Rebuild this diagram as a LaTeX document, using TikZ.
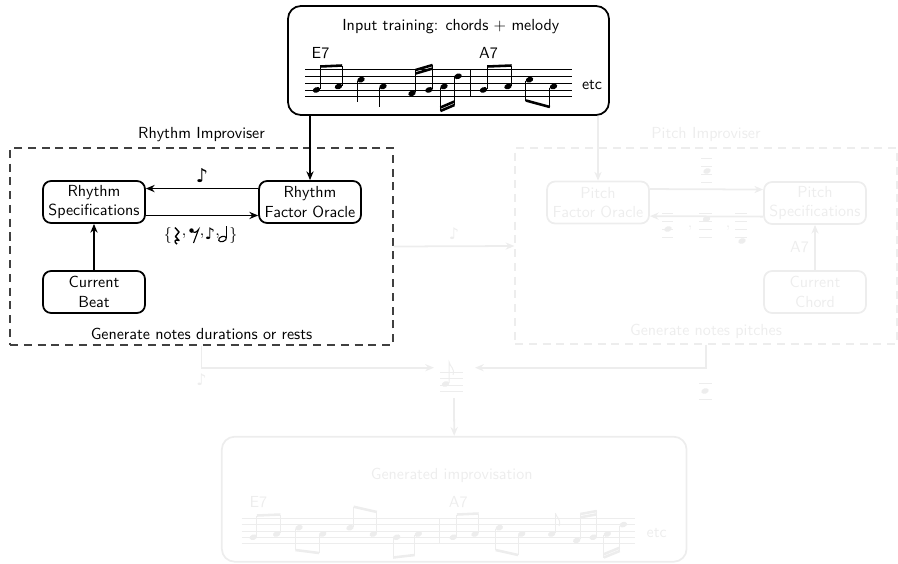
\documentclass[tikz,border=0pt]{standalone}
\usepackage{fontspec}
\usepackage{amsmath}
\newfontfamily\musicfont{DejaVu Sans}
\renewcommand{\familydefault}{\sfdefault}
\usetikzlibrary{arrows.meta}

% small music engraving helpers (pixel units, y down)
\newcommand{\nhd}[2]{\fill[rotate around={20:(#1,#2)}] (#1,#2) ellipse (2.4pt and 1.7pt);}
\newcommand{\nup}[3]{\nhd{#1}{#2}\draw[stemln] (#1+3.6,#2-1) -- (#1+3.6,#3);}
\newcommand{\ndn}[3]{\nhd{#1}{#2}\draw[stemln] (#1-3.6,#2+1) -- (#1-3.6,#3);}
\newcommand{\bm}[4]{\draw[beam] (#1,#2) -- (#3,#4);}
\newcommand{\staff}[4]{\foreach \k in {0,...,4} {\draw[staffln] (#1,#2+\k*#4) -- (#3,#2+\k*#4);}}
\newcommand{\snip}[5]{\foreach \k in {0,...,3} {\draw[staffln] (#1,#3+\k*8) -- (#2,#3+\k*8);}\nhd{#4}{#5}}

\begin{document}
\begin{tikzpicture}[x=0.624pt, y=-0.624pt, >={Stealth[length=5.5pt, width=4.5pt]},
    box/.style={draw, line width=1.1pt, rounded corners=5pt, minimum width=63.6pt,
        minimum height=26.2pt, align=center, inner sep=1pt},
    improv/.style={draw, dash pattern=on 5pt off 3.6pt, line width=0.7pt},
    flow/.style={->, line width=1.1pt},
    stemln/.style={line width=0.6pt},
    beam/.style={line width=1.6pt},
    staffln/.style={line width=0.4pt}]
    \useasboundingbox (0,0) rectangle (898,563);

    % input score
    \node[draw, line width=1.1pt, rounded corners=8pt, minimum width=200.3pt, minimum height=68pt] (input) at (448.5,60.5) {};
    \node at (450.8,26.7) {Input training: chords $+$ melody};
    \node at (320.5,53) {E7};
    \node at (488.5,53) {A7};
    \node at (592,85) {etc};
    \staff{305}{69.5}{572}{6.8}
    \draw[staffln] (470.7,69.5) -- (470.7,96.7);
    \nup{316.5}{89.9}{66.5} \nup{338.5}{86.5}{65.5} \bm{320.1}{66.5}{342.1}{65.5}
    \ndn{361}{79.7}{102} \ndn{383}{86.5}{107}
    \nup{412}{93.3}{70} \nup{429}{89.9}{65}
    \bm{415.6}{70}{432.6}{65} \bm{415.6}{73.5}{432.6}{68.5}
    \ndn{444}{86.5}{111} \ndn{458}{76.3}{105}
    \bm{440.4}{111}{454.4}{105} \bm{440.4}{107.5}{454.4}{101.5}
    \nup{483.5}{89.9}{66.5} \nup{508}{86.5}{65.5} \bm{487.1}{66.5}{511.6}{65.5}
    \ndn{529.5}{79.7}{100.5} \ndn{553.5}{86.5}{107} \bm{525.9}{100.5}{549.9}{107}

    % pitch side and output, greyed out
    \begin{scope}[color=black!7]
        \node[improv, minimum width=238.4pt, minimum height=122.3pt] (pgroup) at (706,246) {};
        \node[above] at (pgroup.north) {Pitch Improviser};
        \node[above] at (pgroup.south) {Generate notes pitches};
        \node[box] (poracle) at (598,202.5) {Pitch\\Factor Oracle};
        \node[box] (pspec) at (815,203) {Pitch\\Specifications};
        \node[box] (pchord) at (815,292) {Current\\Chord};
        \draw[flow] (input.south -| poracle.north) -- (poracle.north);
        \draw[flow] ([yshift=8.4pt]poracle.east) -- ([yshift=8.4pt]pspec.west);
        \draw[flow] ([yshift=-8.5pt]pspec.west) -- ([yshift=-8.5pt]poracle.east);
        \draw[flow] (pchord) -- (pspec) node[midway, left] {A7};
        \snip{701}{712}{158}{707}{171}
        \snip{662}{673}{213}{668}{229}
        \snip{699}{712}{213}{706.5}{219}
        \snip{735}{747}{213}{742}{241}
        \node at (690,228) {$,$};
        \node at (728,228) {$,$};

        \coordinate (mergeL) at (434,367.7);
        \coordinate (mergeR) at (475,367.7);
        \coordinate (mergeB) at (454,398);
        \foreach \k in {0,...,3} {\draw[staffln] (440,372+\k*6.5) -- (463,372+\k*6.5);}
        \nhd{445.5}{384}
        \draw[stemln] (449.1,383) -- (449.1,362) .. controls (450,367) and (455,368) .. (453,375);
        \draw[staffln] (699,383) -- (712,383);
        \draw[staffln] (699,399) -- (712,399);
        \nhd{705}{391}

        \node[draw, line width=1.1pt, rounded corners=8pt, minimum width=290pt, minimum height=78pt] (gen) at (454.2,499.2) {};
        \draw[flow] (mergeB) -- (gen.north);
        \node at (451.7,475) {Generated improvisation};
        \node at (258.3,501.7) {E7};
        \node at (458.3,501.7) {A7};
        \node at (656.7,532.7) {etc};
        \staff{241.7}{518.3}{635}{6.3}
        \draw[staffln] (439.3,518.3) -- (439.3,543.5);
        \nup{253.3}{537.2}{515.5} \nup{276.7}{534}{514.5} \bm{256.9}{515.5}{280.3}{514.5}
        \ndn{299}{527.7}{550} \ndn{322.7}{534}{553} \bm{295.4}{550}{319.1}{553}
        \nup{350}{527.7}{506.7} \nup{373.3}{534}{512} \bm{353.6}{506.7}{376.9}{512}
        \ndn{396.7}{537.2}{557.5} \ndn{418.3}{534}{555} \bm{393.1}{557.5}{414.7}{555}
        \nup{453.3}{537.2}{514.5} \nup{475}{534}{513.5} \bm{456.9}{514.5}{478.6}{513.5}
        \ndn{499.3}{527.7}{550} \ndn{521.7}{534}{555} \bm{495.7}{550}{518.1}{555}
        \nup{551.7}{534}{513}
        \draw[stemln] (555.3,513) .. controls (556.5,518) and (561.5,519) .. (559,526);
        \nup{576.7}{540.4}{514} \nup{593.3}{537.2}{511}
        \bm{580.3}{514}{596.9}{511} \bm{580.3}{517.3}{596.9}{514.3}
        \ndn{607.3}{534}{557.5} \ndn{623.3}{524.6}{551}
        \bm{603.7}{557.5}{619.7}{551} \bm{603.7}{554.2}{619.7}{547.7}
    \end{scope}

    % rhythm improviser
    \node[improv, black!75, minimum width=239pt, minimum height=122.9pt] (rgroup) at (201.5,246.5) {};
    \node[above] at (rgroup.north) {Rhythm Improviser};
    \node[above] at (rgroup.south) {Generate notes durations or rests};
    \node[box] (rspec) at (94,202) {Rhythm\\Specifications};
    \node[box] (roracle) at (310,202) {Rhythm\\Factor Oracle};
    \node[box] (rbeat) at (94,292) {Current\\Beat};
    \draw[flow] (input.south -| roracle.north) -- (roracle.north);
    \draw[flow] ([yshift=8.4pt]roracle.west) -- ([yshift=8.4pt]rspec.east)
        node[midway, above=0pt] {\musicfont\large ♪};
    \draw[flow] ([yshift=-8.4pt]rspec.east) -- ([yshift=-8.4pt]roracle.west);
    \draw[flow] (rbeat) -- (rspec);

    % durations set {quarter rest, eighth rest, eighth note, half note}
    \node at (168,235) {$\{$};
    \node at (184,236) {$,$};
    \node at (202,236) {$,$};
    \node at (217.5,236) {$,$};
    \node at (233.5,235) {$\}$};
    \node at (210,233.5) {\musicfont ♪};
    \draw[line width=0.9pt, line join=round] (175,227.5) -- (179,232) -- (175.5,236.5) -- (179,240.5)
        .. controls (175,238.5) and (173.5,242) .. (177,244);
    \fill (191.5,230.5) circle (1.4pt);
    \draw[line width=0.7pt] (191.5,231.5) .. controls (193.5,233.5) and (196.5,232.5) .. (198.5,229.5) -- (193.5,243);
    \draw[line width=0.7pt, rotate around={20:(222.5,239)}] (222.5,239) ellipse (2.5pt and 1.6pt);
    \draw[stemln] (226.3,238) -- (226.3,226);

    % links between the two improvisers, greyed out
    \begin{scope}[color=black!7]
        \draw[flow] (rgroup.east) -- (pgroup.west) node[midway, above] {\musicfont ♪};
        \draw[flow] (rgroup.south) |- node[below] {\musicfont ♪} (mergeL);
        \draw[flow] (pgroup.south) |- (mergeR);
    \end{scope}
\end{tikzpicture}
\end{document}
